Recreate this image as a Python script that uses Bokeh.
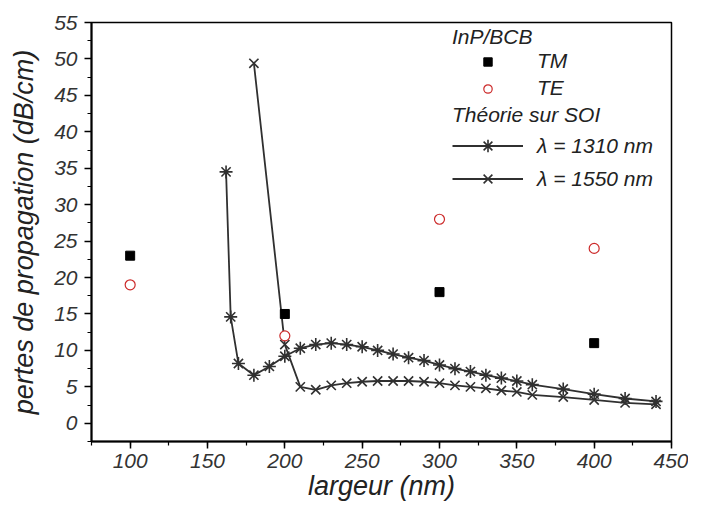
from bokeh.plotting import figure
from bokeh.models import Range1d, FixedTicker, Legend, LegendItem
from bokeh.embed import file_html
from bokeh.resources import INLINE

# InP/BCB measurements
inp_width = [100, 200, 300, 400]
tm_loss = [23, 15, 18, 11]
te_loss = [19, 12, 28, 24]

# SOI theory, lambda = 1310 nm
w1310 = [162, 165, 170, 180, 190, 200, 210, 220, 230, 240, 250, 260, 270, 280,
         290, 300, 310, 320, 330, 340, 350, 360, 380, 400, 420, 440]
l1310 = [34.5, 14.6, 8.2, 6.6, 7.8, 9.2, 10.3, 10.8, 11.0, 10.8, 10.5, 10.0, 9.5, 9.0,
         8.6, 8.0, 7.5, 7.1, 6.6, 6.2, 5.8, 5.3, 4.7, 4.0, 3.4, 3.0]

# SOI theory, lambda = 1550 nm
w1550 = [180, 200, 210, 220, 230, 240, 250, 260, 270, 280, 290, 300, 310, 320,
         330, 340, 350, 360, 380, 400, 420, 440]
l1550 = [49.4, 10.8, 5.0, 4.6, 5.2, 5.5, 5.7, 5.8, 5.8, 5.8, 5.7, 5.5, 5.2, 5.0,
         4.8, 4.5, 4.3, 3.9, 3.6, 3.2, 2.8, 2.6]

x_major = [100, 150, 200, 250, 300, 350, 400, 450]
y_major = [0, 5, 10, 15, 20, 25, 30, 35, 40, 45, 50, 55]

FONT = "Liberation Sans"
LINE_COL = "#303030"

p = figure(width=688, height=503, output_backend="svg", toolbar_location=None,
           x_range=Range1d(75, 450), y_range=Range1d(-2.5, 55),
           min_border_left=91, min_border_right=17, min_border_top=22,
           min_border_bottom=56)
p.grid.visible = False
p.outline_line_color = "black"
p.outline_line_width = 1.5
p.background_fill_color = "white"
p.border_fill_color = "white"

p.xaxis.ticker = FixedTicker(ticks=x_major, minor_ticks=[75 + 25 * i for i in range(16)])
p.yaxis.ticker = FixedTicker(ticks=y_major, minor_ticks=[-2.5 + 2.5 * i for i in range(24)])

for ax in (p.xaxis, p.yaxis):
    ax.axis_line_width = 2
    ax.axis_line_color = "black"
    ax.major_tick_in = 0
    ax.major_tick_out = 7
    ax.minor_tick_in = 0
    ax.minor_tick_out = 4
    ax.major_tick_line_width = 1.5
    ax.minor_tick_line_width = 1.2
    ax.major_label_text_font = FONT
    ax.major_label_text_font_style = "italic"
    ax.major_label_text_font_size = "21px"
    ax.major_label_text_color = "#333333"
    ax.axis_label_text_font = FONT
    ax.axis_label_text_font_style = "italic"
    ax.axis_label_text_font_size = "27px"
    ax.axis_label_text_color = "#222222"

p.xaxis.axis_label = "largeur (nm)"
p.yaxis.axis_label = "pertes de propagation (dB/cm)"
p.xaxis.major_label_standoff = 5
p.xaxis.axis_label_standoff = 0
p.yaxis.major_label_standoff = 7
p.yaxis.axis_label_standoff = 12

l1 = p.line(w1310, l1310, line_color=LINE_COL, line_width=1.8)
s1 = p.scatter(w1310, l1310, marker="asterisk", size=13, line_color=LINE_COL, line_width=1.6)
l2 = p.line(w1550, l1550, line_color=LINE_COL, line_width=1.8)
s2 = p.scatter(w1550, l1550, marker="x", size=13, line_color=LINE_COL, line_width=1.6)

tm = p.scatter(inp_width, tm_loss, marker="square", size=9, fill_color="black", line_color="black")
te = p.scatter(inp_width, te_loss, marker="circle", size=10, fill_color="white",
               line_color="#cc2a2a", line_width=1.2)

def style_legend(lg):
    lg.border_line_alpha = 0
    lg.background_fill_alpha = 0
    lg.padding = 0
    lg.margin = 0
    lg.glyph_width = 71
    lg.glyph_height = 21
    lg.label_standoff = 14
    lg.label_text_font = FONT
    lg.label_text_font_style = "italic"
    lg.label_text_font_size = "21px"
    lg.label_text_color = "#222222"
    lg.title_text_font = FONT
    lg.title_text_font_style = "italic"
    lg.title_text_font_size = "21px"
    lg.title_text_color = "#222222"

leg1 = Legend(items=[LegendItem(label="TM", renderers=[tm]),
                     LegendItem(label="TE", renderers=[te])],
              title="InP/BCB", location=(361, 341))
style_legend(leg1)
leg1.spacing = 3
leg1.title_standoff = 0

leg2 = Legend(items=[LegendItem(label="λ = 1310 nm", renderers=[l1, s1]),
                     LegendItem(label="λ = 1550 nm", renderers=[l2, s2])],
              title="Théorie sur SOI", location=(361, 247))
style_legend(leg2)
leg2.glyph_height = 31
leg2.spacing = 2
leg2.title_standoff = 3

p.add_layout(leg1, "center")
p.add_layout(leg2, "center")

open("out.html", "w").write(file_html(p, INLINE))
